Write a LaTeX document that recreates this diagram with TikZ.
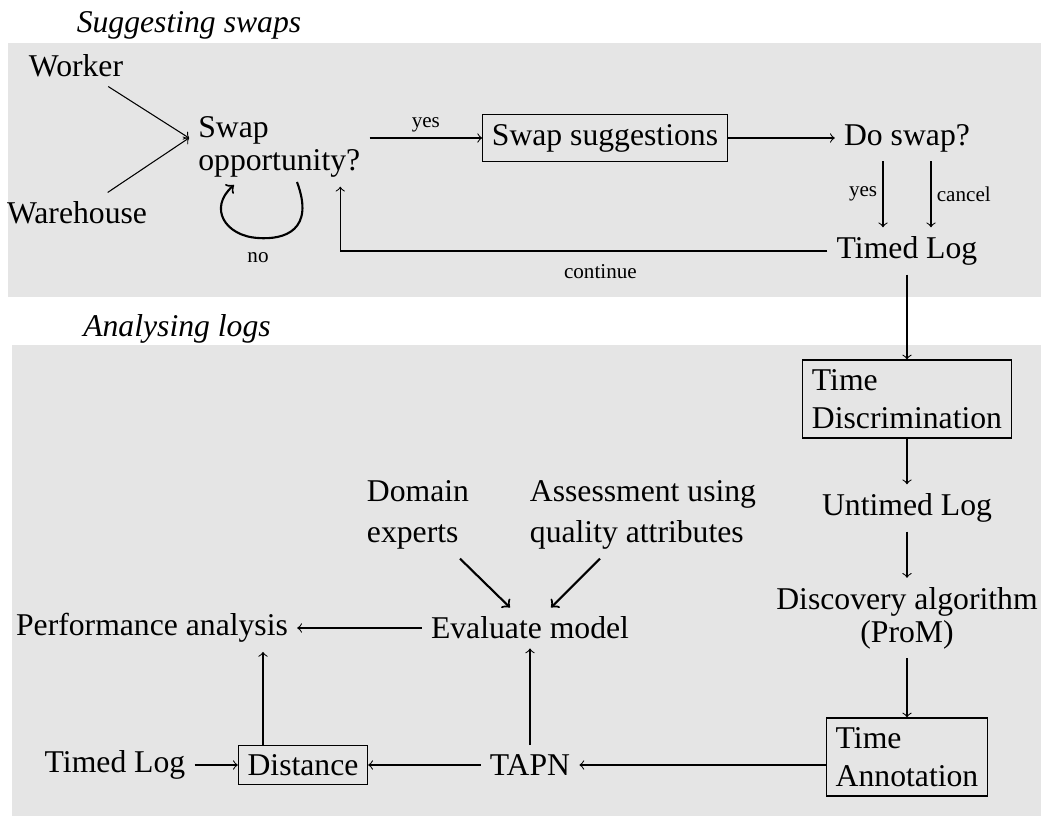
\documentclass[tikz,border=0pt]{standalone}
\usepackage{fontspec}
\setmainfont{Liberation Serif}
\usetikzlibrary{calc}
\begin{document}
\begin{tikzpicture}[x=0.37879pt,y=-0.37879pt,
  every node/.style={font=\fontsize{12}{14.5}\selectfont, text=black},
  lbl/.style={font=\fontsize{8}{9.5}\selectfont, inner sep=2pt},
  box/.style={draw, inner xsep=3.5pt, inner ysep=3.5pt},
  heading/.style={font=\fontsize{12}{14.5}\selectfont\itshape},
  flow/.style={->, >=to},
  bold/.style={->, >=to, thick},
  panel/.style={fill=gray!20}]

\useasboundingbox (0,0) rectangle (1042,816);

% background panels
\fill[panel] (8,43) rectangle (1041,297);
\fill[panel] (12,345) rectangle (1041,816);

% --- online part ---
\node[heading] (hswap) at (189,25) {Suggesting swaps};
\node (worker) at (76,66) {Worker};
\node (warehouse) at (77,213) {Warehouse};
\node[align=left, anchor=west] (opp) at (189,147) {Swap\\[-2pt]opportunity?};
\node[box] (sugg) at (605,138) {Swap suggestions};
\node (doswap) at (907,138) {Do swap?};
\node (tlog) at (907,251) {Timed Log};

\draw[flow] (worker) -- ($(opp.west)+(0,-9)$);
\draw[flow] (warehouse) -- ($(opp.west)+(0,-9)$);
\draw[flow] (opp.east |- sugg) -- (sugg) node[lbl, midway, above] {yes};
\draw[flow] (sugg) -- (doswap);
\draw[flow] ($(doswap.south)+(-24,0)$) -- ($(tlog.north)+(-24,0)$) node[lbl, midway, left] {yes};
\draw[flow] ($(doswap.south)+(24,0)$) -- ($(tlog.north)+(24,0)$) node[lbl, midway, right] {cancel};
\draw[flow] (tlog.west) -| ($(opp.south)+(61,0)$) node[lbl, pos=0.233, below=3pt] {continue};

% waiting loop
\draw[bold] (297,182) .. controls (315,230) and (285,240) .. (258,238)
            .. controls (225,236) and (208,208) .. (234,185);
\node[lbl] (no) at (258,258) {no};

% --- offline part ---
\node[heading] (hlogs) at (177,329) {Analysing logs};
\node[box, align=left] (tdisc) at (907,399) {Time\\Discrimination};
\node (untimed) at (907,508) {Untimed Log};
\node[align=center] (disc) at (907,618) {Discovery algorithm\\[-2pt](ProM)};
\node[box, align=left] (tann) at (907,757) {Time\\Annotation};
\node (tapn) at (530,765) {TAPN};
\node[box] (dist) at (303,765) {Distance};
\node (tlog2) at (115,765) {Timed Log};
\node (perf) at (152,628) {Performance analysis};
\node (evalm) at (530,628) {Evaluate model};
\node[align=left] (domain) at (418,515) {Domain\\[1pt]experts};
\node[align=left] (assess) at (643,515) {Assessment using\\[1pt]quality attributes};

\draw[flow] (tlog) -- (tdisc);
\draw[flow] (tdisc) -- (untimed);
\draw[flow] (untimed) -- (disc);
\draw[flow] (disc) -- (tann);
\draw[flow] (tann.west |- tapn) -- (tapn);
\draw[flow] (tapn) -- (dist);
\draw[flow] (tlog2) -- (dist);
\draw[flow] (tapn) -- (evalm);
\draw[flow] (evalm) -- (perf);
\coordinate (dtop) at ($(dist.north)+(-40,0)$);
\draw[flow] (dtop) -- (dtop |- perf.south);
\draw[bold] ($(domain.south)+(42,0)$) -- ($(evalm.north)+(-20,0)$);
\draw[bold] ($(assess.south)+(-43,0)$) -- ($(evalm.north)+(21,0)$);
\end{tikzpicture}
\end{document}
